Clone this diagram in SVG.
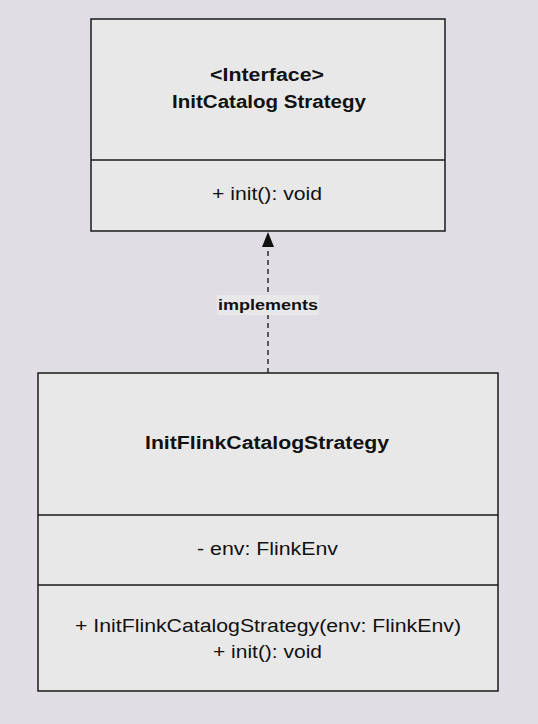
<svg xmlns="http://www.w3.org/2000/svg" width="538" height="724" viewBox="0 0 538 724">
<style>
.box{fill:#e8e8e8;stroke:#1a1a1a;stroke-width:1.5}
.div{stroke:#1a1a1a;stroke-width:1.5}
text{font-family:"Liberation Sans",Arial,sans-serif;fill:#111;text-anchor:middle}
.b{font-weight:bold;font-size:18px}
.n{font-size:18px}
.lbl{font-weight:bold;font-size:15px}
</style>
<defs>
<marker id="tri" markerWidth="15" markerHeight="12" refX="0" refY="6" orient="auto" markerUnits="userSpaceOnUse" viewBox="0 0 15 12">
<path d="M0,0 L15,6 L0,12 Z" fill="#111"/>
</marker>
</defs>
<rect width="538" height="724" fill="#e1dde4"/>
<g id="connectors">
<line x1="268" y1="373" x2="268" y2="247" stroke="#111" stroke-width="1.3" stroke-dasharray="5,4" marker-end="url(#tri)"/>
<rect x="217" y="295" width="102" height="20" fill="#e8e8e8"/>
<text class="lbl" x="268" y="310" textLength="100" lengthAdjust="spacingAndGlyphs">implements</text>
</g>
<g id="InitCatalogStrategy">
<rect class="box" x="91" y="19" width="354" height="212"/>
<line class="div" x1="91" y1="160" x2="445" y2="160"/>
<text class="b" x="267" y="81" textLength="114" lengthAdjust="spacingAndGlyphs">&lt;Interface&gt;</text>
<text class="b" x="269" y="108" textLength="194" lengthAdjust="spacingAndGlyphs">InitCatalog Strategy</text>
<text class="n" x="267" y="200" textLength="110" lengthAdjust="spacingAndGlyphs">+ init(): void</text>
</g>
<g id="InitFlinkCatalogStrategy">
<rect class="box" x="38" y="373" width="460" height="318"/>
<line class="div" x1="38" y1="515" x2="498" y2="515"/>
<line class="div" x1="38" y1="585" x2="498" y2="585"/>
<text class="b" x="267" y="449" textLength="244" lengthAdjust="spacingAndGlyphs">InitFlinkCatalogStrategy</text>
<text class="n" x="267.5" y="555" textLength="141" lengthAdjust="spacingAndGlyphs">- env: FlinkEnv</text>
<text class="n" x="268" y="632" textLength="386" lengthAdjust="spacingAndGlyphs">+ InitFlinkCatalogStrategy(env: FlinkEnv)</text>
<text class="n" x="267.5" y="658" textLength="109" lengthAdjust="spacingAndGlyphs">+ init(): void</text>
</g>
</svg>
